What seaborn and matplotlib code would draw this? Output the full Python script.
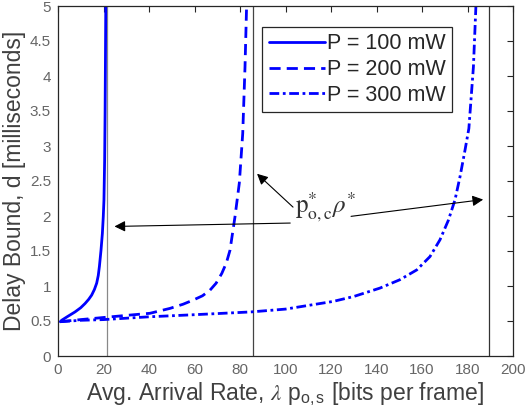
import matplotlib
matplotlib.use("Agg")
import matplotlib.pyplot as plt
import seaborn as sns
import pandas as pd
from matplotlib.ticker import FuncFormatter

# ---- data ----
x_100 = [1, 1.6, 4, 7.5, 10, 11.9, 13.5, 14.8, 16, 17, 17.7, 18.2, 18.9, 19.5, 19.9, 20.2, 20.5, 20.7, 20.85, 21.0]
y_100 = [0.49, 0.51, 0.56, 0.63, 0.69, 0.75, 0.81, 0.87, 0.95, 1.04, 1.15, 1.28, 1.51, 1.75, 1.99, 2.23, 2.8, 3.47, 4.2, 5.0]

x_200 = [1, 10, 20, 30, 40.4, 49.2, 55, 59.5, 63.5, 66.8, 69.5, 72, 74, 75.6, 77.8, 79.7, 81.2, 82.2, 82.9]
y_200 = [0.49, 0.52, 0.55, 0.58, 0.61, 0.68, 0.74, 0.8, 0.86, 0.94, 1.04, 1.18, 1.33, 1.51, 1.99, 2.47, 3.18, 4.13, 5.0]

x_300 = [1, 10, 20, 40, 60, 85, 100, 121, 130, 141.5, 150.3, 157.7, 163.5, 167.9, 171.6, 174.5, 176.7, 178.9, 180.6, 182.6, 183.7]
y_300 = [0.49, 0.51, 0.52, 0.56, 0.59, 0.63, 0.67, 0.78, 0.85, 0.97, 1.09, 1.23, 1.42, 1.66, 1.94, 2.23, 2.56, 2.94, 3.25, 4.13, 5.0]

limits = [21.5, 85.7, 189.5]
labels = ["P = 100 mW", "P = 200 mW", "P = 300 mW"]
x_ticks = list(range(0, 201, 20))
y_ticks = [0, 0.5, 1, 1.5, 2, 2.5, 3, 3.5, 4, 4.5, 5]

sns.set_theme(style="white")
plt.rcParams["font.family"] = ["Liberation Sans", "DejaVu Sans"]
plt.rcParams["mathtext.fontset"] = "custom"
plt.rcParams["mathtext.rm"] = "Liberation Sans"
plt.rcParams["mathtext.it"] = "Liberation Sans"

fig = plt.figure(figsize=(5.26, 4.18), dpi=100)
ax = fig.add_axes([58/526, 1-356/418, 455/526, 350/418])

blue = "#0000ff"
styles = [dict(linestyle="-"), dict(linestyle=(0, (4, 2.2))), dict(linestyle=(0, (3.5, 1.3, 1, 1.3)))]
for xs, ys, lab, st in zip([x_100, x_200, x_300], [y_100, y_200, y_300], labels, styles):
    df = pd.DataFrame({"x": xs, "y": ys})
    sns.lineplot(data=df, x="x", y="y", ax=ax, color=blue, lw=2.0, label=lab, **st)

for xv, c in zip(limits, ["#888888", "#444444", "#333333"]):
    ax.axvline(xv, color=c, lw=0.9, zorder=1)

ax.set_xlim(0, 200)
ax.set_ylim(0, 5)
ax.set_xticks(x_ticks)
ax.set_yticks(y_ticks)
fmt = FuncFormatter(lambda v, p: "%g" % v)
ax.xaxis.set_major_formatter(fmt)
ax.yaxis.set_major_formatter(fmt)
ax.tick_params(direction="in", length=4, width=0.8, top=True, right=True,
               labelsize=11, colors="#262626", labelcolor="#666666", pad=5)
for s in ax.spines.values():
    s.set_color("#262626")
    s.set_linewidth(0.9)

ax.set_xlabel(r"Avg. Arrival Rate, $\mathit{\lambda}$ p$_{\mathregular{o,s}}$ [bits per frame]",
              fontsize=16.5, color="#404040", labelpad=2)
ax.xaxis.label.set_math_fontfamily("stix")
ax.set_ylabel("Delay Bound, d [milliseconds]", fontsize=16.5, color="#404040", labelpad=3)

leg = ax.legend(loc="upper right", bbox_to_anchor=(0.866, 0.94), borderaxespad=0,
                fontsize=15.5, frameon=True, fancybox=False, framealpha=1,
                edgecolor="#262626", handlelength=2.6, handletextpad=0.1,
                labelspacing=0.22, borderpad=0.3)
leg.get_frame().set_linewidth(0.9)

# annotation text (serif)
ax.text(117.5, 2.13, r"$\mathrm{p}^{*}_{\mathrm{o,c}}\rho^{*}$", fontsize=18,
        ha="center", va="center", color="#333333",
        math_fontfamily="stix")
arrow = dict(arrowstyle="-|>", color="black", lw=0.8, mutation_scale=16)
ax.annotate("", xy=(23.6, 1.85), xytext=(103.3, 1.9), arrowprops=arrow)
ax.annotate("", xy=(86.6, 2.63), xytext=(104.2, 2.1), arrowprops=arrow)
ax.annotate("", xy=(188.1, 2.24), xytext=(127.6, 1.99), arrowprops=arrow)

fig.savefig("out.png", dpi=100)
